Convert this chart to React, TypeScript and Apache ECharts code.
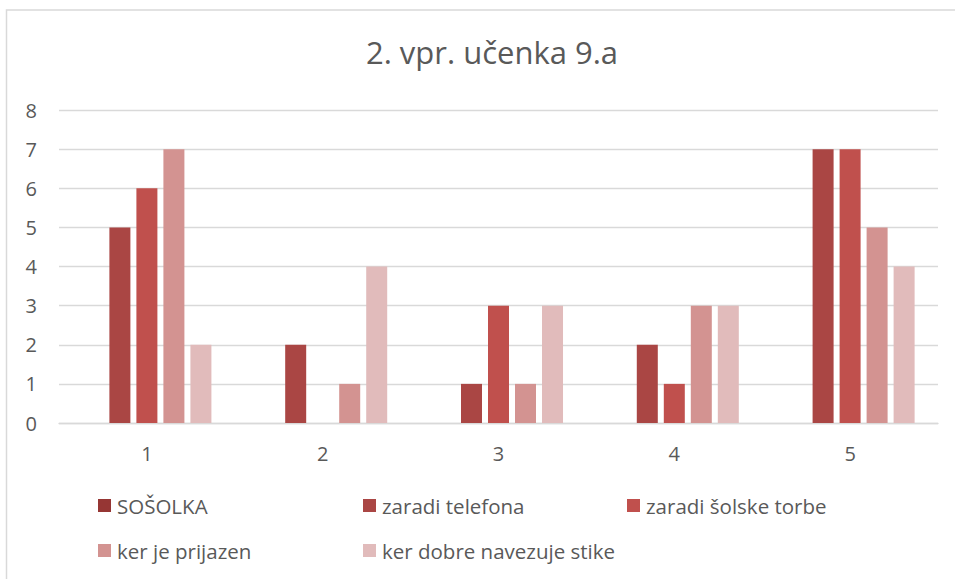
import React, { useEffect, useRef } from "react";
import * as echarts from "echarts";

const categories = ["1", "2", "3", "4", "5"];
const seriesNames = [
  "SOŠOLKA",
  "zaradi telefona",
  "zaradi šolske torbe",
  "ker je prijazen",
  "ker dobre navezuje stike",
];
const sosolka: (number | null)[] = [null, null, null, null, null];
const zaradiTelefona = [5, 2, 1, 2, 7];
const zaradiSolskeTorbe = [6, 0, 3, 1, 7];
const kerJePrijazen = [7, 1, 1, 3, 5];
const kerDobreNavezujeStike = [2, 4, 3, 3, 4];
const colors = ["#963634", "#AA4644", "#C0504D", "#D39391", "#E1BBBB"];

const FONT = "'Open Sans', sans-serif";
const TXT = "#595959";

export default function App() {
  const ref = useRef<HTMLDivElement>(null);
  useEffect(() => {
    if (!ref.current) return;
    const chart = echarts.init(ref.current, null, { renderer: "svg" });
    const data = [sosolka, zaradiTelefona, zaradiSolskeTorbe, kerJePrijazen, kerDobreNavezujeStike];
    const legendPos = [
      { left: 98, top: 495 },
      { left: 363, top: 495 },
      { left: 627, top: 495 },
      { left: 98, top: 540 },
      { left: 363, top: 540 },
    ];
    chart.setOption({
      animation: false,
      backgroundColor: "#ffffff",
      color: colors,
      title: {
        text: "2. vpr. učenka 9.a",
        left: 487,
        top: 31,
        textAlign: "center",
        textStyle: { fontFamily: FONT, fontSize: 31, fontWeight: "normal", color: TXT },
      },
      graphic: [
        {
          type: "rect",
          shape: { x: 6.5, y: 10, width: 1000, height: 700 },
          style: { fill: "none", stroke: "#d9d9d9", lineWidth: 1.5 },
          silent: true,
        },
      ],
      legend: legendPos.map((p, i) => ({
        data: [seriesNames[i]],
        left: p.left,
        top: p.top,
        padding: 0,
        itemWidth: 13,
        itemHeight: 13,
        icon: "rect",
        selectedMode: false,
        textStyle: { fontFamily: FONT, fontSize: 20.5, color: TXT, padding: [0, 0, 0, 1] },
      })),
      grid: { left: 59, right: 17, top: 110, bottom: 156, containLabel: false },
      xAxis: {
        type: "category",
        data: categories,
        axisLine: { lineStyle: { color: "#d9d9d9", width: 1.3 } },
        axisTick: { show: false },
        axisLabel: { fontFamily: FONT, fontSize: 20, color: TXT, margin: 20 },
      },
      yAxis: {
        type: "value",
        min: 0,
        max: 8,
        interval: 1,
        axisLine: { show: false },
        axisTick: { show: false },
        axisLabel: { fontFamily: FONT, fontSize: 20, color: TXT, margin: 22 },
        splitLine: { lineStyle: { color: "#d9d9d9", width: 1.3 } },
      },
      series: seriesNames.map((name, i) => ({
        name,
        type: "bar",
        data: data[i],
        barWidth: 21,
        barGap: "28.6%",
        itemStyle: { color: colors[i] },
      })),
    });
    return () => chart.dispose();
  }, []);
  return (
    <div
      ref={ref}
      style={{ position: "fixed", left: 0, top: 0, width: 955, height: 579 }}
    />
  );
}
